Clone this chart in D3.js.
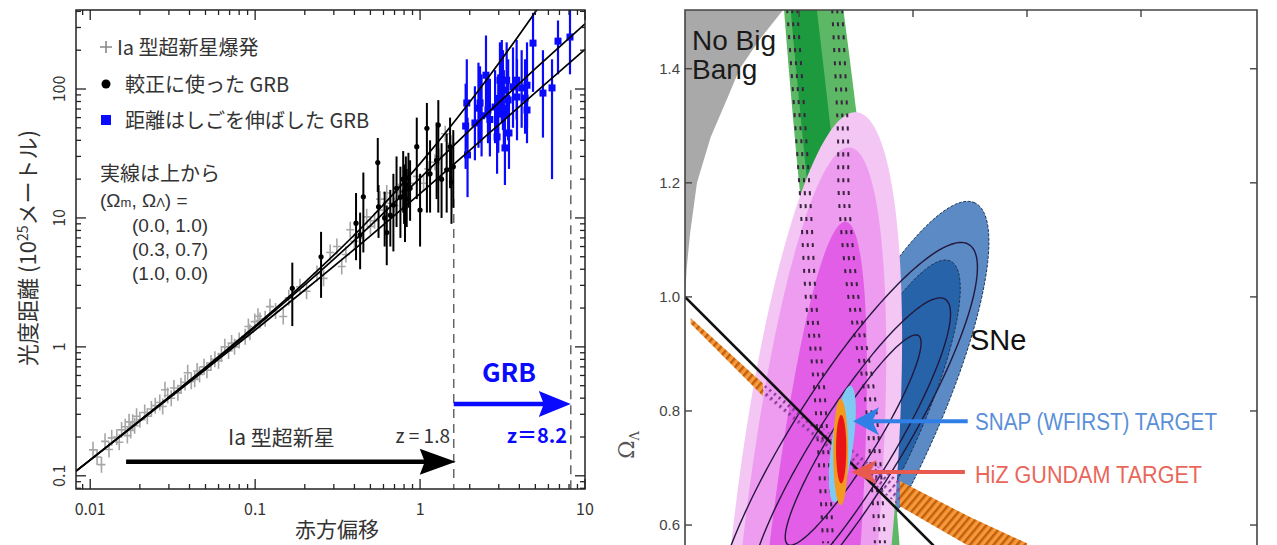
<!DOCTYPE html>
<html><head><meta charset="utf-8">
<script src="https://cdn.jsdelivr.net/npm/d3@7/dist/d3.min.js"></script>
<style>
html,body{margin:0;padding:0;background:#fff;overflow:hidden;}
svg{display:block;}
</style></head><body>
<svg id="chart" width="1277" height="545"></svg>
<script>
// ================= LEFT PANEL DATA =================
// theoretical luminosity-distance curves (10^25 m)
const curveZ = [0.0082,0.01,0.02,0.05,0.1,0.2,0.5,1,2,3,5,7,10];
const curveL0 = [0.109,0.133,0.269,0.693,1.452,3.168,9.90,26.4,79.2,158.4,396,739,1452]; // (0.0,1.0)
const curveL1 = [0.109,0.133,0.268,0.686,1.417,3.022,8.72,20.37,47.9,78.4,143.7,212.6,320.2]; // (0.3,0.7)
const curveL2 = [0.1085,0.1323,0.2653,0.668,1.351,2.760,7.267,15.46,33.47,52.8,93.73,136.5,202.8]; // (1.0,0.0)

// Type Ia supernovae (gray crosses)
const snZ = [0.0104,0.0110,0.0117,0.0123,0.0130,0.0135,0.0145,0.0150,0.0155,0.0163,0.0168,0.0172,0.0176,0.0181,0.0186,0.0191,0.0200,0.0214,0.0222,0.0235,0.0248,0.0264,0.0275,0.0284,0.0295,0.0310,0.0322,0.0340,0.0355,0.0376,0.0390,0.0410,0.0430,0.0445,0.0460,0.0490,0.0510,0.0540,0.0570,0.0600,0.0625,0.0655,0.0690,0.0720,0.0750,0.0800,0.0870,0.0910,0.0930,0.0995,0.1040,0.1070,0.1150,0.1230,0.1330,0.1480,0.1600,0.1870,0.2050,0.2370,0.2600,0.2850,0.3130,0.3350,0.3550,0.3770,0.4000,0.4300,0.4750,0.5000,0.5300,0.5720,0.6000,0.6280,0.6600,0.7000,0.7400,0.8000,0.8700,0.9550,1.0500,1.1200,1.2300,1.3000,1.4200,1.5500];
const snD = [0.159,0.140,0.122,0.185,0.160,0.197,0.200,0.182,0.227,0.240,0.205,0.262,0.225,0.260,0.245,0.290,0.272,0.310,0.290,0.330,0.350,0.370,0.345,0.465,0.420,0.400,0.480,0.440,0.500,0.530,0.630,0.540,0.560,0.650,0.610,0.700,0.660,0.750,0.800,0.780,0.880,1.000,0.930,1.070,1.000,1.120,1.200,1.440,1.300,1.570,1.730,1.600,1.650,2.050,1.900,1.720,2.400,2.930,2.700,3.700,3.400,5.400,6.000,4.200,5.200,8.100,6.600,7.000,10.20,8.600,9.500,14.00,11.50,15.60,13.00,12.50,16.00,15.00,18.60,21.00,18.60,24.00,27.00,30.00,45.00,38.00];

// GRBs used for calibration (black dots)
const calZ  = [0.168,0.251,0.409,0.433,0.453,0.554,0.56,0.61,0.628,0.66,0.689,0.72,0.76,0.79,0.80,0.81,0.82,0.83,0.85,0.87,0.955,1.0,1.1,1.15,1.26,1.29,1.35,1.45,1.52,1.55,1.59];
const calD  = [2.85,5.0,9.1,7.4,14.6,26.9,12.2,10.0,7.7,10.5,12.6,17.0,14.5,20.0,16.0,12.0,18.0,14.0,20.5,17.0,35.7,11.5,49.6,22.0,28.0,52.6,20.0,23.6,35.7,19.0,25.0];
const calLo = [1.45,2.4,4.7,4.0,5.4,15.9,7.0,6.0,4.3,6.0,5.5,8.5,7.0,11.0,9.0,6.5,10.0,8.5,12.0,9.5,14.0,6.0,11.0,11.0,14.0,11.0,10.0,11.0,17.0,9.0,12.0];
const calHi = [4.5,7.8,15.6,11.0,22.5,41.7,18.0,16.0,12.5,16.5,22.0,30.0,25.0,33.0,26.0,20.0,30.0,24.0,32.0,28.0,60.0,22.0,78.0,40.0,55.0,82.0,38.0,45.0,60.0,35.0,48.0];

// GRBs extending the distance ladder (blue squares)
const grbZ  = [1.89,1.92,1.94,2.15,2.26,2.31,2.36,2.51,2.58,2.65,2.85,2.93,2.98,3.05,3.13,3.18,3.22,3.27,3.35,3.42,3.46,3.66,3.85,3.87,4.13,4.33,4.45,4.45,4.84,5.56,6.31,6.86,8.11];
const grbD  = [51.6,77.9,30.8,54.5,71,77.9,62,128,68.7,58,72.5,42.5,66,117,117,98,71,34.9,117,82.2,45.6,104,117,86.7,102,85,107,68.7,227,93,102,235,253];
const grbLo = [24,35,14.5,28,35,38,30,60,38,30,38,22,32,60,55,48,36,18,60,40,24,50,58,40,50,45,50,38,95,42,20,130,130];
const grbHi = [110,170,60,105,160,150,130,260,130,120,140,90,130,230,240,200,140,70,230,170,90,210,240,170,200,170,230,130,390,200,170,340,410];

const xTickVals = [0.01,0.1,1,10];
const xTickLabels = ["0.01","0.1","1","10"];
const yTickVals = [0.1,1,10,100];
const yTickLabels = ["0.1","1","10","100"];
const zLimits = [1.6, 8.2];          // redshift limits (dashed lines)
const zLimitTopD = [14, 98];         // where the dashed lines start
const snArrowZ = [0.0165, 1.6];  const snArrowD = 0.1285;
const grbArrowZ = [1.6, 8.2];    const grbArrowD = 0.361;

// ================= RIGHT PANEL DATA =================
const omTicks = [0.2,0.4,0.6,0.8];
const olTicks = [0.6,0.8,1.0,1.2,1.4];
const olTickLabels = ["0.6","0.8","1.0","1.2","1.4"];
const noBigBangOm = [0,0.003,0.009,0.021,0.045,0.075,0.096,0.13,0.172,0.19];
const noBigBangOl = [1.0,1.05,1.112,1.2,1.28,1.35,1.4,1.45,1.503,1.53];
// SNe contours (outer, inner)
const sneCx=[0.323,0.325], sneCy=[0.767,0.761], sneA=[0.439,0.333], sneB=[0.109,0.079], sneAng=[65,65];
// green band (outer, inner)
const cmbCx=[0.2754,0.258], cmbCy=[1.030,1.030], cmbA=[1.053,1.0], cmbB=[0.058,0.026], cmbAng=[96,96];
// magenta GRB constraints (light, medium, deep)
const grbCx=[0.219,0.211,0.211], grbCy=[0.539,0.477,0.381], grbA=[0.789,0.789,0.754], grbB=[0.140,0.119,0.082], grbAng=[84,84.3,84.6];
// thin black contours
const ctCx=[0.281,0.289,0.295], ctCy=[0.744,0.728,0.749], ctA=[0.41,0.316,0.216], ctB=[0.096,0.067,0.039], ctAng=[58,58,58];
// dashed contour columns
const colLOm=[0.188,0.211,0.221,0.237,0.251], colLOl=[1.504,1.170,0.995,0.819,0.568];
const colROm=[0.267,0.277,0.279,0.296,0.325,0.342], colROl=[1.504,1.288,1.170,0.995,0.819,0.568];
// orange hatched band
const bandOm=[0.010,0.137,0.284,0.377,0.500,0.600], bandOl=[0.958,0.837,0.723,0.655,0.588,0.540], bandHw=[0.005,0.011,0.016,0.022,0.026,0.028];
// flat universe line
const flatOm=[0,1], flatOl=[1,0];
// target ellipses (SNAP light blue, HiZ orange, HiZ red)
const tgCx=[0.276,0.273,0.274], tgCy=[0.742,0.728,0.733], tgA=[0.103,0.093,0.060], tgB=[0.019,0.013,0.009], tgAng=[82,90,90];
// arrows: [tailOm, tipOm, Ol]
const snapArrow=[0.496,0.295,0.782];
const hizArrow=[0.491,0.291,0.693];

// ================= DRAWING =================
const JP='"Noto Sans CJK JP","Noto Sans",sans-serif';
const LAT='"Liberation Sans",Arial,sans-serif';
const svg=d3.select('#chart');
const defs=svg.append('defs');

// ----- LEFT -----
const xL=d3.scaleLog().domain([0.0082,10]).range([76,585]);
const yL=d3.scaleLog().domain([0.079,410]).range([489,10]);
defs.append('clipPath').attr('id','clipL').append('rect').attr('x',76).attr('y',10).attr('width',509).attr('height',479);
const pL=svg.append('g').attr('clip-path','url(#clipL)');

pL.selectAll('line.dz').data(zLimits).join('line').attr('class','dz')
  .attr('x1',d=>xL(d)).attr('x2',d=>xL(d)).attr('y1',(d,i)=>yL(zLimitTopD[i])).attr('y2',489)
  .attr('stroke','#666').attr('stroke-width',1.5).attr('stroke-dasharray','9,6');

const sn=snZ.map((z,i)=>({z,d:snD[i]}));
pL.append('g').selectAll('path').data(sn).join('path')
  .attr('d',p=>{const x=xL(p.z),y=yL(p.d);return `M${x-4},${y}H${x+4}M${x},${y-8}V${y+8}`;})
  .attr('stroke','#a6a6a6').attr('stroke-width',1.6).attr('fill','none');

const line=d3.line().x(d=>xL(d[0])).y(d=>yL(d[1])).curve(d3.curveMonotoneX);

const cal=calZ.map((z,i)=>({z,d:calD[i],lo:calLo[i],hi:calHi[i]}));
const gC=pL.append('g');
gC.selectAll('line').data(cal).join('line')
  .attr('x1',p=>xL(p.z)).attr('x2',p=>xL(p.z)).attr('y1',p=>yL(p.hi)).attr('y2',p=>yL(p.lo))
  .attr('stroke','#000').attr('stroke-width',2);
gC.selectAll('circle').data(cal).join('circle')
  .attr('cx',p=>xL(p.z)).attr('cy',p=>yL(p.d)).attr('r',2.6).attr('fill','#000');

const grb=grbZ.map((z,i)=>({z,d:grbD[i],lo:grbLo[i],hi:grbHi[i]}));
const gB=pL.append('g');
gB.selectAll('line').data(grb).join('line')
  .attr('x1',p=>xL(p.z)).attr('x2',p=>xL(p.z)).attr('y1',p=>yL(p.hi)).attr('y2',p=>yL(p.lo))
  .attr('stroke','#0a0aff').attr('stroke-width',2.2);
gB.selectAll('rect').data(grb).join('rect')
  .attr('x',p=>xL(p.z)-3.5).attr('y',p=>yL(p.d)-3.5).attr('width',7).attr('height',7).attr('fill','#0a0aff');

[curveL0,curveL1,curveL2].forEach(c=>{
  pL.append('path').attr('d',line(curveZ.map((z,i)=>[z,c[i]])))
    .attr('fill','none').attr('stroke','#000').attr('stroke-width',1.7);
});

// frame + ticks
svg.append('rect').attr('x',76).attr('y',10).attr('width',509).attr('height',479)
  .attr('fill','none').attr('stroke','#222').attr('stroke-width',1.5);
const isMajor=v=>Math.abs(Math.log10(v)-Math.round(Math.log10(v)))<1e-6;
const tk=svg.append('g').attr('stroke','#222').attr('stroke-width',1.3);
xL.ticks().forEach(v=>{
  const x=xL(v), L=isMajor(v)?10:5;
  tk.append('line').attr('x1',x).attr('x2',x).attr('y1',489).attr('y2',489-L);
  tk.append('line').attr('x1',x).attr('x2',x).attr('y1',10).attr('y2',10+L);
});
yL.ticks().forEach(v=>{
  const y=yL(v), L=isMajor(v)?10:5;
  tk.append('line').attr('x1',76).attr('x2',76+L).attr('y1',y).attr('y2',y);
  tk.append('line').attr('x1',585).attr('x2',585-L).attr('y1',y).attr('y2',y);
});
svg.append('g').selectAll('text').data(xTickVals).join('text')
  .attr('x',d=>xL(d)).attr('y',515).attr('text-anchor','middle')
  .attr('font-family',JP).attr('font-size',16).attr('fill','#333').text((d,i)=>xTickLabels[i]);
svg.append('g').selectAll('text').data(yTickVals).join('text')
  .attr('transform',d=>`translate(65,${yL(d)}) rotate(-90)`).attr('text-anchor','middle')
  .attr('font-family',JP).attr('font-size',16).attr('fill','#333').text((d,i)=>yTickLabels[i]);

// axis titles
svg.append('text').attr('x',337).attr('y',537).attr('text-anchor','middle')
  .attr('font-family',JP).attr('font-size',21).attr('fill','#333').text('赤方偏移');
const yt=svg.append('text').attr('transform','translate(36,248) rotate(-90)').attr('text-anchor','middle')
  .attr('font-family',JP).attr('font-size',22).attr('fill','#333');
yt.append('tspan').text('光度距離 (10');
yt.append('tspan').attr('dy',-8).attr('font-size',14).text('25');
yt.append('tspan').attr('dy',8).text('メートル)');

// legend
svg.append('path').attr('d','M100,47H112M106,41V53').attr('stroke','#888').attr('stroke-width',1.6);
svg.append('circle').attr('cx',106).attr('cy',84).attr('r',4.5).attr('fill','#000');
svg.append('rect').attr('x',101).attr('y',115).attr('width',10).attr('height',10).attr('fill','#0a0aff');
const leg=[['Ia 型超新星爆発',117,55],['較正に使った GRB',125,92],['距離はしごを伸ばした GRB',125,128],['実線は上から',100,181]];
leg.forEach(l=>svg.append('text').attr('x',l[1]).attr('y',l[2]).attr('font-family',JP).attr('font-size',20).attr('fill','#333').text(l[0]));
const legNum=[['(0.0, 1.0)',132,232],['(0.3, 0.7)',132,256],['(1.0, 0.0)',132,280]];
legNum.forEach(l=>svg.append('text').attr('x',l[1]).attr('y',l[2]).attr('font-family',LAT).attr('font-size',19).attr('fill','#333').text(l[0]));
const om=svg.append('text').attr('x',100).attr('y',207).attr('font-family',LAT).attr('font-size',19).attr('fill','#333');
om.append('tspan').text('(Ω');
om.append('tspan').attr('font-size',13).text('m');
om.append('tspan').text(', Ω');
om.append('tspan').attr('font-size',13).text('Λ');
om.append('tspan').text(') =');

// arrows
function head(tx,ty,dir,len,half,notch){
  return `M${tx},${ty}L${tx-dir*len},${ty-half}L${tx-dir*(len-notch)},${ty}L${tx-dir*len},${ty+half}Z`;
}
{
  const y=yL(snArrowD), x0=xL(snArrowZ[0]), x1=xL(snArrowZ[1])+2;
  svg.append('line').attr('x1',x0).attr('x2',x1-25).attr('y1',y).attr('y2',y).attr('stroke','#000').attr('stroke-width',4.5);
  svg.append('path').attr('d',head(x1,y,1,36,13,5)).attr('fill','#000');
}
{
  const y=yL(grbArrowD), x0=xL(grbArrowZ[0]), x1=xL(grbArrowZ[1]);
  svg.append('line').attr('x1',x0).attr('x2',x1-22).attr('y1',y).attr('y2',y).attr('stroke','#0a0aff').attr('stroke-width',4.5);
  svg.append('path').attr('d',head(x1,y,1,32,13,5)).attr('fill','#0a0aff');
}
svg.append('text').attr('x',228).attr('y',445).attr('font-family',JP).attr('font-size',21).attr('fill','#333').text('Ia 型超新星');
svg.append('text').attr('x',450).attr('y',443).attr('text-anchor','end').attr('font-family',JP).attr('font-size',19).attr('fill','#333').text('z = 1.8');
svg.append('text').attr('x',509).attr('y',382).attr('text-anchor','middle').attr('font-family',JP).attr('font-size',26).attr('font-weight','bold').attr('fill','#0a0aff').text('GRB');
svg.append('text').attr('x',567).attr('y',443).attr('text-anchor','end').attr('font-family',JP).attr('font-size',20).attr('font-weight','bold').attr('fill','#0a0aff').text('z＝8.2');

// ----- RIGHT -----
const xR=d3.scaleLinear().domain([0,1.0035]).range([685,1257]);
const yR=d3.scaleLinear().domain([0.565,1.503]).range([545,10]);
defs.append('clipPath').attr('id','clipR').append('rect').attr('x',685).attr('y',10).attr('width',572).attr('height',540);
const pR=svg.append('g').attr('clip-path','url(#clipR)');

const po=defs.append('pattern').attr('id','hatchO').attr('width',6).attr('height',6)
  .attr('patternUnits','userSpaceOnUse').attr('patternTransform','rotate(40)');
po.append('rect').attr('width',6).attr('height',6).attr('fill','#f59a3a');
po.append('rect').attr('width',2.5).attr('height',6).attr('fill','#c45e0c');
const pp=defs.append('pattern').attr('id','hatchP').attr('width',6).attr('height',6)
  .attr('patternUnits','userSpaceOnUse').attr('patternTransform','rotate(40)');
pp.append('rect').attr('width',2.2).attr('height',3.5).attr('fill','#8a3a9e');

function ell(cx,cy,a,b,ang,n=180){
  const th=ang*Math.PI/180,pts=[];
  for(let i=0;i<n;i++){const t=2*Math.PI*i/n,dx=a*Math.cos(t),dy=b*Math.sin(t);
    pts.push([xR(cx+dx*Math.cos(th)-dy*Math.sin(th)),yR(cy+dx*Math.sin(th)+dy*Math.cos(th))]);}
  return 'M'+pts.map(p=>p.join(',')).join('L')+'Z';
}

// no big bang
const nbb=noBigBangOm.map((m,i)=>[xR(m),yR(noBigBangOl[i])]);
nbb.push([xR(0),yR(1.53)]);
pR.append('path').attr('d',d3.line().curve(d3.curveLinearClosed)(nbb)).attr('fill','#a9a9a9');

// SNe
const sneFill=['#5b8ac4','#2763a8'];
sneCx.forEach((c,i)=>pR.append('path').attr('d',ell(c,sneCy[i],sneA[i],sneB[i],sneAng[i]))
  .attr('fill',sneFill[i]).attr('stroke','#1c3558').attr('stroke-width',1).attr('stroke-dasharray','3,1.5'));
// green
const cmbFill=['#5cb864','#1d9a3e'];
cmbCx.forEach((c,i)=>pR.append('path').attr('d',ell(c,cmbCy[i],cmbA[i],cmbB[i],cmbAng[i])).attr('fill',cmbFill[i]));
// magenta
const grbFill=['#f4c6f4','#ee9cef','#e25ee6'];
grbCx.forEach((c,i)=>pR.append('path').attr('d',ell(c,grbCy[i],grbA[i],grbB[i],grbAng[i])).attr('fill',grbFill[i]));
// dashed columns
const colLine=d3.line().curve(d3.curveCatmullRom);
[[colLOm,colLOl],[colROm,colROl]].forEach(([mm,ll])=>{
  [-5,0,5].forEach(off=>{
    pR.append('path').attr('d',colLine(mm.map((m,i)=>[xR(m)+off,yR(ll[i])])))
      .attr('fill','none').attr('stroke','#3a2440').attr('stroke-width',2).attr('stroke-dasharray','4,9');
  });
});
// black contours
ctCx.forEach((c,i)=>pR.append('path').attr('d',ell(c,ctCy[i],ctA[i],ctB[i],ctAng[i]))
  .attr('fill','none').attr('stroke','#24183e').attr('stroke-width',1.4));
// orange band
function bandPath(i0,i1){
  const up=[],dn=[];
  for(let i=i0;i<=i1;i++){up.push([xR(bandOm[i]),yR(bandOl[i]+bandHw[i])]);dn.push([xR(bandOm[i]),yR(bandOl[i]-bandHw[i])]);}
  return d3.line()(up.concat(dn.reverse()))+'Z';
}
pR.append('path').attr('d',bandPath(0,1)).attr('fill','url(#hatchO)');
pR.append('path').attr('d',bandPath(1,3)).attr('fill','url(#hatchP)');
pR.append('path').attr('d',bandPath(3,5)).attr('fill','url(#hatchO)');
// flat line
pR.append('line').attr('x1',xR(flatOm[0])).attr('y1',yR(flatOl[0])).attr('x2',xR(flatOm[1])).attr('y2',yR(flatOl[1]))
  .attr('stroke','#111').attr('stroke-width',2.6);
// targets
const tgFill=['#7fcaf2','#f39a1e','#e8141a'];
tgCx.forEach((c,i)=>pR.append('path').attr('d',ell(c,tgCy[i],tgA[i],tgB[i],tgAng[i])).attr('fill',tgFill[i]));

// arrows
[[snapArrow,'#2f7fe6',14],[hizArrow,'#e85a4f',12]].forEach(([a,col,h])=>{
  const x0=xR(a[0]),x1=xR(a[1]),y=yR(a[2]);
  svg.append('line').attr('x1',x0).attr('x2',x1+18).attr('y1',y).attr('y2',y).attr('stroke',col).attr('stroke-width',4);
  svg.append('path').attr('d',head(x1,y,-1,26,h,7)).attr('fill',col);
});

// texts
svg.append('text').attr('x',692).attr('y',50).attr('font-family',LAT).attr('font-size',28).attr('fill','#1a1a1a').text('No Big');
svg.append('text').attr('x',692).attr('y',79).attr('font-family',LAT).attr('font-size',28).attr('fill','#1a1a1a').text('Bang');
svg.append('text').attr('x',970).attr('y',350).attr('font-family',LAT).attr('font-size',29).attr('fill','#111').text('SNe');
svg.append('text').attr('x',975).attr('y',430).attr('font-family',LAT).attr('font-size',23).attr('fill','#5a8fd8')
  .attr('textLength',242).attr('lengthAdjust','spacingAndGlyphs').text('SNAP (WFIRST) TARGET');
svg.append('text').attr('x',975).attr('y',483).attr('font-family',LAT).attr('font-size',23).attr('fill','#e8675a')
  .attr('textLength',227).attr('lengthAdjust','spacingAndGlyphs').text('HiZ GUNDAM TARGET');
const ol=svg.append('text').attr('transform','translate(634,445) rotate(-90)').attr('text-anchor','middle')
  .attr('font-family','"DejaVu Serif","Liberation Serif",serif').attr('font-size',22).attr('fill','#555');
ol.append('tspan').text('Ω');
ol.append('tspan').attr('font-size',13).attr('dy',5).text('Λ');

// frame + ticks
svg.append('path').attr('d','M685,545V10H1257V545').attr('fill','none').attr('stroke','#444').attr('stroke-width',1.6);
const tr=svg.append('g').attr('stroke','#444').attr('stroke-width',1.4);
olTicks.forEach(v=>{
  tr.append('line').attr('x1',685).attr('x2',692).attr('y1',yR(v)).attr('y2',yR(v));
  tr.append('line').attr('x1',1257).attr('x2',1250).attr('y1',yR(v)).attr('y2',yR(v));
});
omTicks.forEach(v=>tr.append('line').attr('x1',xR(v)).attr('x2',xR(v)).attr('y1',10).attr('y2',17));
svg.append('g').selectAll('text').data(olTicks).join('text')
  .attr('x',680).attr('y',d=>yR(d)+5).attr('text-anchor','end')
  .attr('font-family',LAT).attr('font-size',15).attr('fill','#444').text((d,i)=>olTickLabels[i]);
</script></body></html>
